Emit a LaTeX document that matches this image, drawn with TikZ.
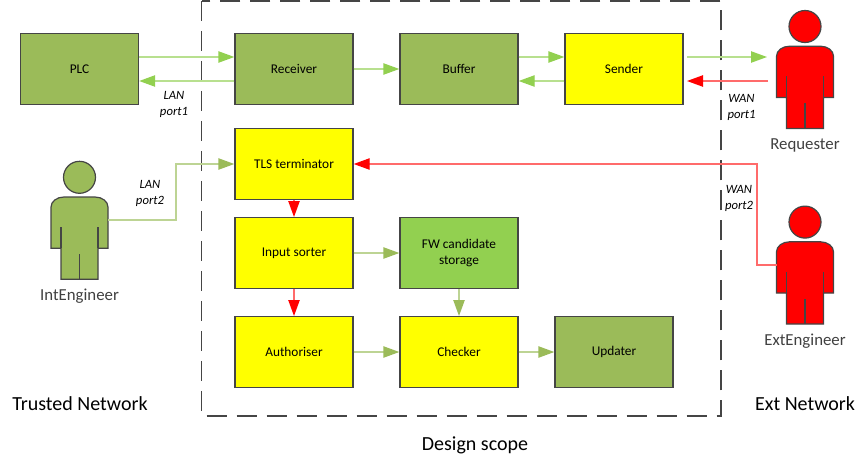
\documentclass[tikz,border=0pt]{standalone}
\usepackage{fontspec}
\setmainfont{Carlito}
\usetikzlibrary{arrows.meta,calc}
\definecolor{olive}{rgb}{0.608,0.733,0.349}
\definecolor{lgreen}{rgb}{0.573,0.816,0.314}
\definecolor{oliveline}{rgb}{0.74,0.83,0.58}
\definecolor{lgreenline}{rgb}{0.72,0.88,0.56}
\definecolor{redline}{rgb}{1,0.42,0.42}
\definecolor{edgegrey}{rgb}{0.27,0.27,0.27}
\definecolor{persontext}{rgb}{0.25,0.25,0.25}
\definecolor{pureyellow}{rgb}{1,1,0}
\definecolor{purered}{rgb}{1,0,0}
\tikzset{
  x=0.75pt,y=-0.75pt,
  blockbox/.style={draw=edgegrey,line width=1pt,minimum width=88.5pt,minimum height=53pt,inner sep=0pt,align=center,font=\fontsize{10}{12}\selectfont},
  oliveblock/.style={blockbox,fill=olive},
  yellowblock/.style={blockbox,fill=pureyellow},
  greenblock/.style={blockbox,fill=lgreen},
  redhead/.style={draw=redline,line width=1pt,-{Triangle[length=12pt,width=8.5pt,color=purered,fill=purered]}},
  olivehead/.style={draw=oliveline,line width=1pt,-{Triangle[length=12pt,width=8.5pt,color=olive,fill=olive]}},
  greenhead/.style={draw=lgreenline,line width=1pt,-{Triangle[length=12pt,width=8.5pt,color=lgreen,fill=lgreen]}},
  portlabel/.style={font=\fontsize{9.5}{12}\selectfont\itshape,align=center,inner sep=0pt},
  zonelabel/.style={font=\fontsize{15}{16}\selectfont,inner sep=0pt},
  personlabel/.style={font=\fontsize{12.6}{14}\selectfont,text=persontext,inner sep=0pt},
  personbox/.style={minimum width=42.75pt,minimum height=61.75pt,inner sep=0pt},
  personline/.style={draw=edgegrey,line width=0.9pt},
  scopeline/.style={draw=edgegrey,line width=1.1pt,dash pattern=on 15pt off 7.5pt},
}
% body of a person drawn around a named bounding node: #1 node name, #2 fill
\newcommand{\personshape}[2]{%
  \begin{scope}[shift={(#1.center)}]
    \fill[#2,personline] (0,-60.7) circle[radius=16];
    \fill[#2,personline] (-28.5,10.2) -- (-28.5,-31) arc[start angle=180,end angle=90,x radius=13,y radius=-10] -- (15.5,-41)
      arc[start angle=90,end angle=0,x radius=13,y radius=-10] -- (28.5,10.2) -- (18.5,10.2) -- (18.5,41.2) -- (-18.5,41.2) -- (-18.5,10.2) -- cycle;
    \draw[personline] (-18.5,-11) -- (-18.5,10.2) (18.5,-11) -- (18.5,10.2) (0,16) -- (0,41.2);
  \end{scope}}
\begin{document}
\begin{tikzpicture}
\useasboundingbox (0,0) rectangle (866,468);
\node[minimum width=388.9pt,minimum height=311pt,inner sep=0pt] (scopebox) at (461.25,208.4) {};
\draw[scopeline] (scopebox.north west) -- (scopebox.south west) -- (scopebox.south east) -- (scopebox.north east) -- cycle;

\node[oliveblock] (plc) at (79.5,69) {PLC};
\node[oliveblock] (receiver) at (294,69) {Receiver};
\node[oliveblock] (buffer) at (459,69) {Buffer};
\node[yellowblock] (sender) at (624,69) {Sender};
\node[yellowblock] (tls) at (294,164) {TLS terminator};
\node[yellowblock] (sorter) at (294,253) {Input sorter};
\node[greenblock] (fw) at (459,253) {FW candidate\\storage};
\node[yellowblock] (auth) at (294,352) {Authoriser};
\node[yellowblock] (checker) at (459,352) {Checker};
\node[oliveblock] (updater) at (614,352) {Updater};

\node[personbox] (inteng) at (79.5,238) {};
\node[personbox] (req) at (805,87.2) {};
\node[personbox] (exteng) at (805,282.8) {};
\personshape{inteng}{olive}
\personshape{req}{purered}
\personshape{exteng}{purered}
\node[personlabel] (intlabel) at (79.5,296.5) {IntEngineer};
\node[personlabel] (reqlabel) at (805,145.5) {Requester};
\node[personlabel] (extlabel) at (805,341.5) {ExtEngineer};

\coordinate (reqin) at (767,57);
\coordinate (reqout) at (768,81);
\coordinate (sendout) at (687,57);
\coordinate (sendin) at (687,81);
\coordinate (intport) at (108,220);
\coordinate (intbend) at (176,220);
\coordinate (extport) at (777,265);
\coordinate (extbend) at (757,265);

\draw[greenhead] ($(plc.east)+(0,-12)$) -- ($(receiver.west)+(0,-12)$);
\draw[greenhead] ($(receiver.west)+(0,12)$) -- ($(plc.east)+(0,12)$);
\draw[greenhead] (receiver) -- (buffer);
\draw[greenhead] ($(buffer.east)+(0,-12)$) -- ($(sender.west)+(0,-12)$);
\draw[greenhead] ($(sender.west)+(0,12)$) -- ($(buffer.east)+(0,12)$);
\draw[greenhead] (sendout) -- (reqin);
\draw[redhead] (reqout) -- (sendin);
\draw[olivehead] (intport) -- (intbend) |- (tls.west);
\draw[redhead] (extport) -- (extbend) |- (tls.east);
\draw[redhead] (tls) -- (sorter);
\draw[redhead] (sorter) -- (auth);
\draw[olivehead] (sorter) -- (fw);
\draw[olivehead] (fw) -- (checker);
\draw[olivehead] (auth) -- (checker);
\draw[olivehead] (checker) -- (updater);

\node[portlabel] (lan1) at (174,104) {LAN\\port1};
\node[portlabel] (lan2) at (150,193) {LAN\\port2};
\node[portlabel] (wan1) at (741.5,107) {WAN\\port1};
\node[portlabel] (wan2) at (739,198.5) {WAN\\port2};
\node[zonelabel] (trusted) at (80,403.5) {Trusted Network};
\node[zonelabel] (extnet) at (805,403.5) {Ext Network};
\node[zonelabel] (design) at (475,445.5) {Design scope};
\end{tikzpicture}
\end{document}
